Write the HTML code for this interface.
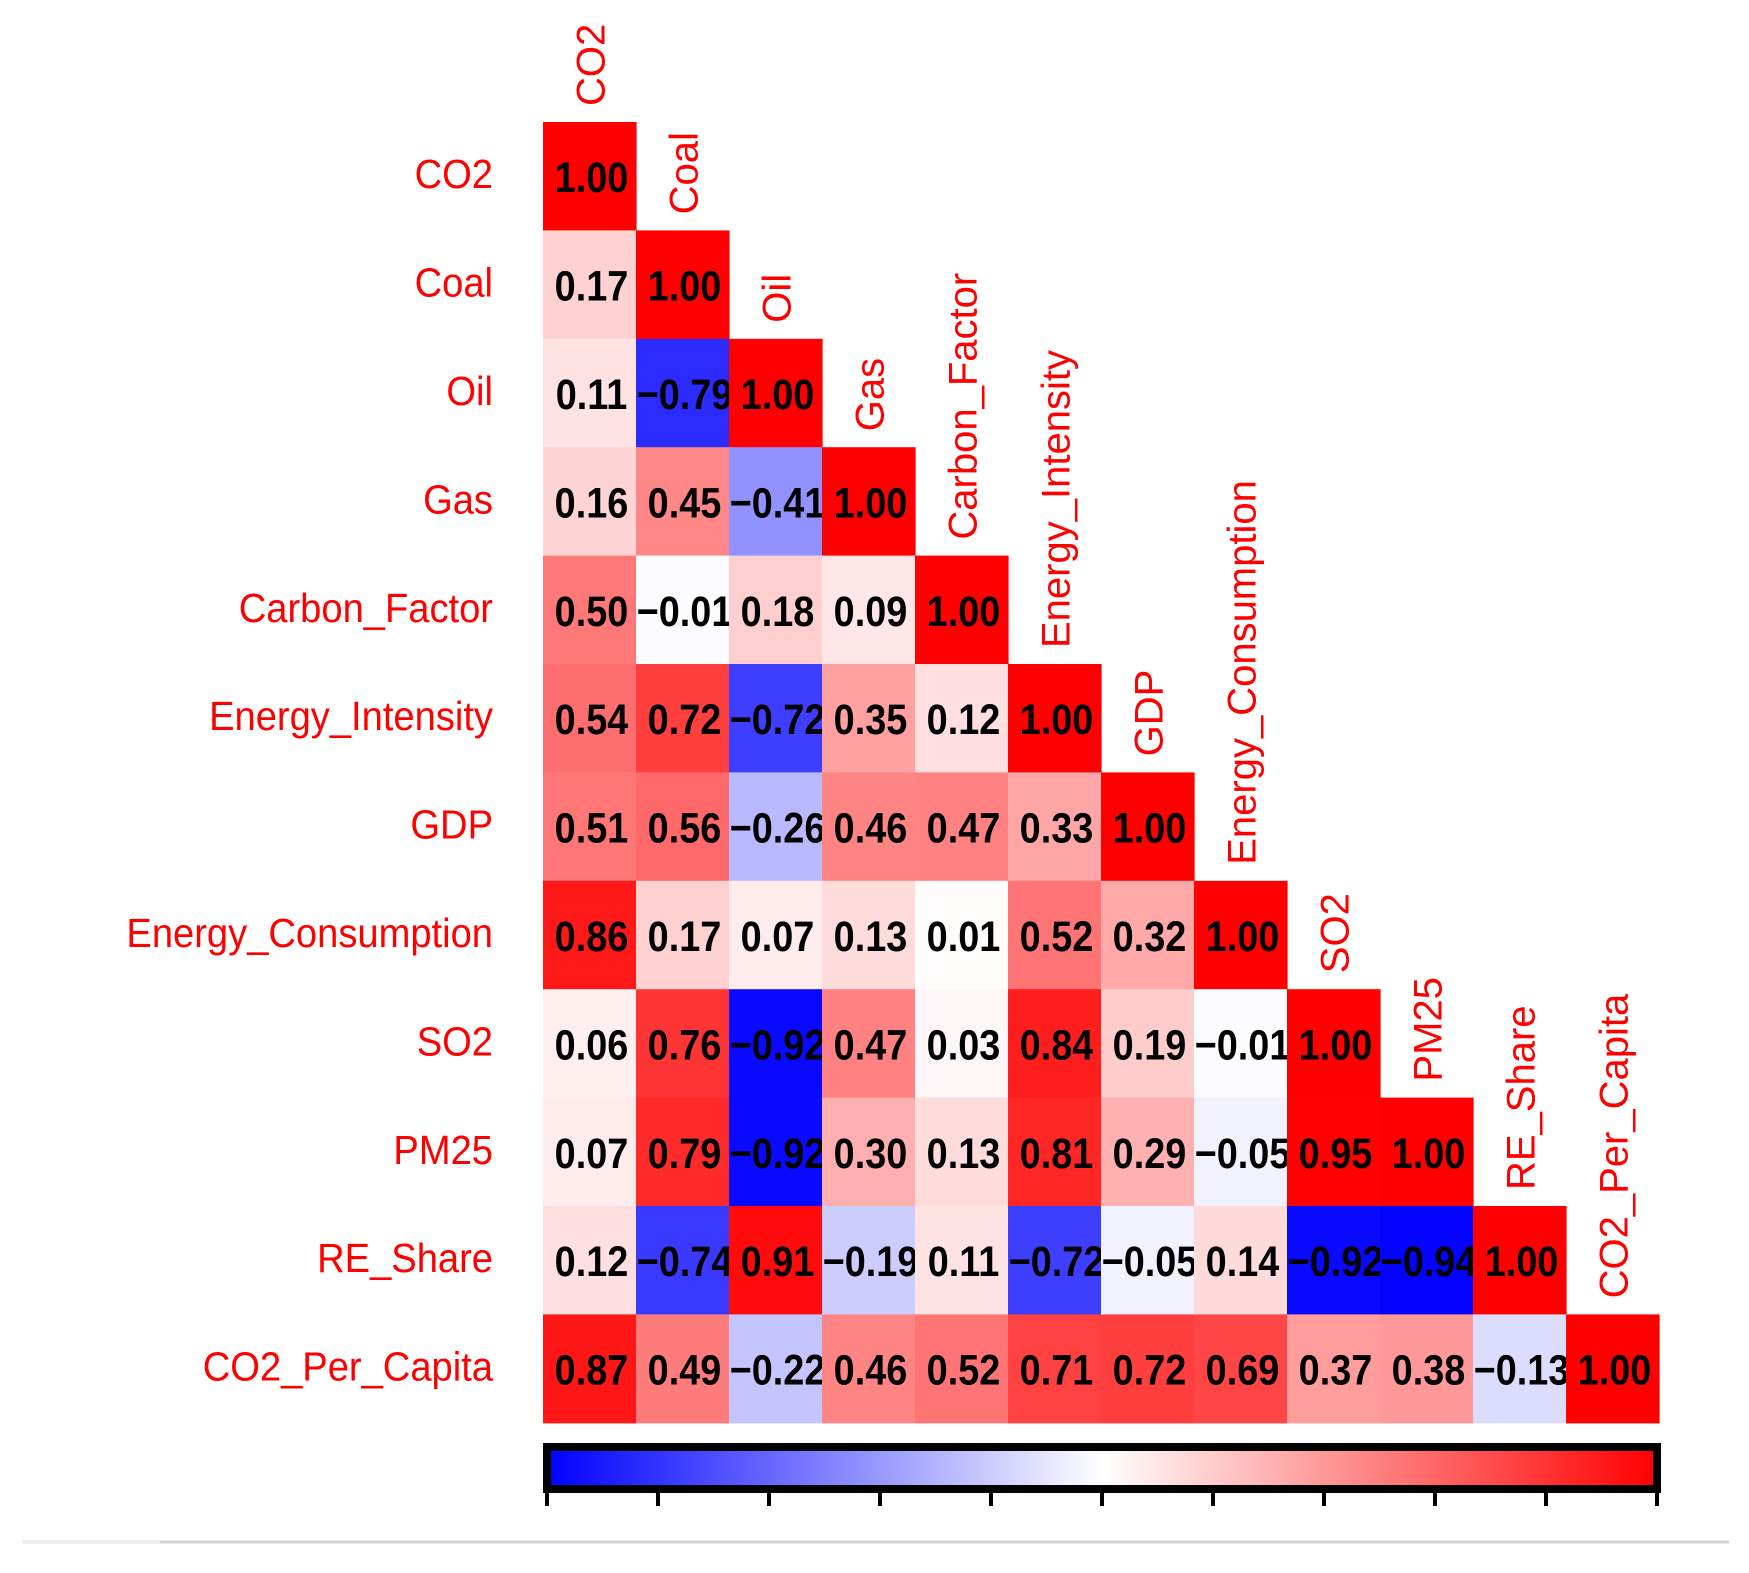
<!DOCTYPE html>
<html><head><meta charset="utf-8"><style>
html,body{margin:0;padding:0;background:#fff;}
svg{display:block;}
</style></head><body>
<svg id="s" width="1749" height="1573" viewBox="0 0 1749 1573" xmlns="http://www.w3.org/2000/svg">
<defs>
<linearGradient id="cb" x1="0" x2="1" y1="0" y2="0">
<stop offset="0" stop-color="#0000ff"/>
<stop offset="0.5" stop-color="#ffffff"/>
<stop offset="1" stop-color="#ff0000"/>
</linearGradient>
</defs>
<rect width="1749" height="1573" fill="#fff"/>
<g id="cells"></g>
<rect x="547" y="1447" width="1110" height="42" fill="url(#cb)" stroke="#000" stroke-width="8"/>
<g id="ticks" stroke="#000" stroke-width="4"></g>
<line x1="22" y1="1542" x2="160" y2="1542" stroke="#eee" stroke-width="4"/>
<line x1="160" y1="1542" x2="1729" y2="1542" stroke="#d4d4d4" stroke-width="3"/>
</svg>
<script>
var names=["CO2","Coal","Oil","Gas","Carbon_Factor","Energy_Intensity","GDP","Energy_Consumption","SO2","PM25","RE_Share","CO2_Per_Capita"];
var M=[[1],[.17,1],[.11,-.79,1],[.16,.45,-.41,1],[.50,-.01,.18,.09,1],[.54,.72,-.72,.35,.12,1],[.51,.56,-.26,.46,.47,.33,1],[.86,.17,.07,.13,.01,.52,.32,1],[.06,.76,-.92,.47,.03,.84,.19,-.01,1],[.07,.79,-.92,.30,.13,.81,.29,-.05,.95,1],[.12,-.74,.91,-.19,.11,-.72,-.05,.14,-.92,-.94,1],[.87,.49,-.22,.46,.52,.71,.72,.69,.37,.38,-.13,1]];
var x0=543,y0=122,w=93,h=108.4,out="";
function col(v){v=Math.max(-1,Math.min(1,v*1.05));if(v>=0){var c=Math.round(255*(1-v));return "rgb(255,"+c+","+c+")";}var c=Math.round(255*(1+v));return "rgb("+c+","+c+",255)";}
for(var i=0;i<12;i++){
 var cy=y0+i*h;
 for(var j=0;j<=i;j++){
  var v=M[i][j],cx=x0+j*w;
  out+='<rect x="'+cx+'" y="'+cy+'" width="'+(w+0.6)+'" height="'+(h+0.6)+'" fill="'+col(v)+'"/>';
  var t=(v<0?"\u2212":"")+Math.abs(v).toFixed(2);
  out+='<text transform="translate('+(cx+w/2+2)+','+(cy+h/2+16)+') scale(0.88,1)" text-anchor="middle" font-family="Liberation Sans, sans-serif" font-weight="bold" font-size="43" fill="#000">'+t+'</text>';
 }
 out+='<text transform="translate(493,'+(cy+h/2+12)+') scale(0.93,1)" text-anchor="end" font-family="Liberation Sans, sans-serif" font-size="41" fill="#ff0000">'+names[i]+'</text>';
 out+='<text transform="translate('+(x0+i*w+w/2+15)+','+(cy-16)+') rotate(-90)" text-anchor="start" font-family="Liberation Sans, sans-serif" font-size="40" fill="#ff0000">'+names[i]+'</text>';
}
document.getElementById("cells").innerHTML=out;
var tk="";
for(var k=0;k<=10;k++){var x=547+k*111;tk+='<line x1="'+x+'" y1="1490" x2="'+x+'" y2="1506"/>';}
document.getElementById("ticks").innerHTML=tk;
</script>
</body></html>
